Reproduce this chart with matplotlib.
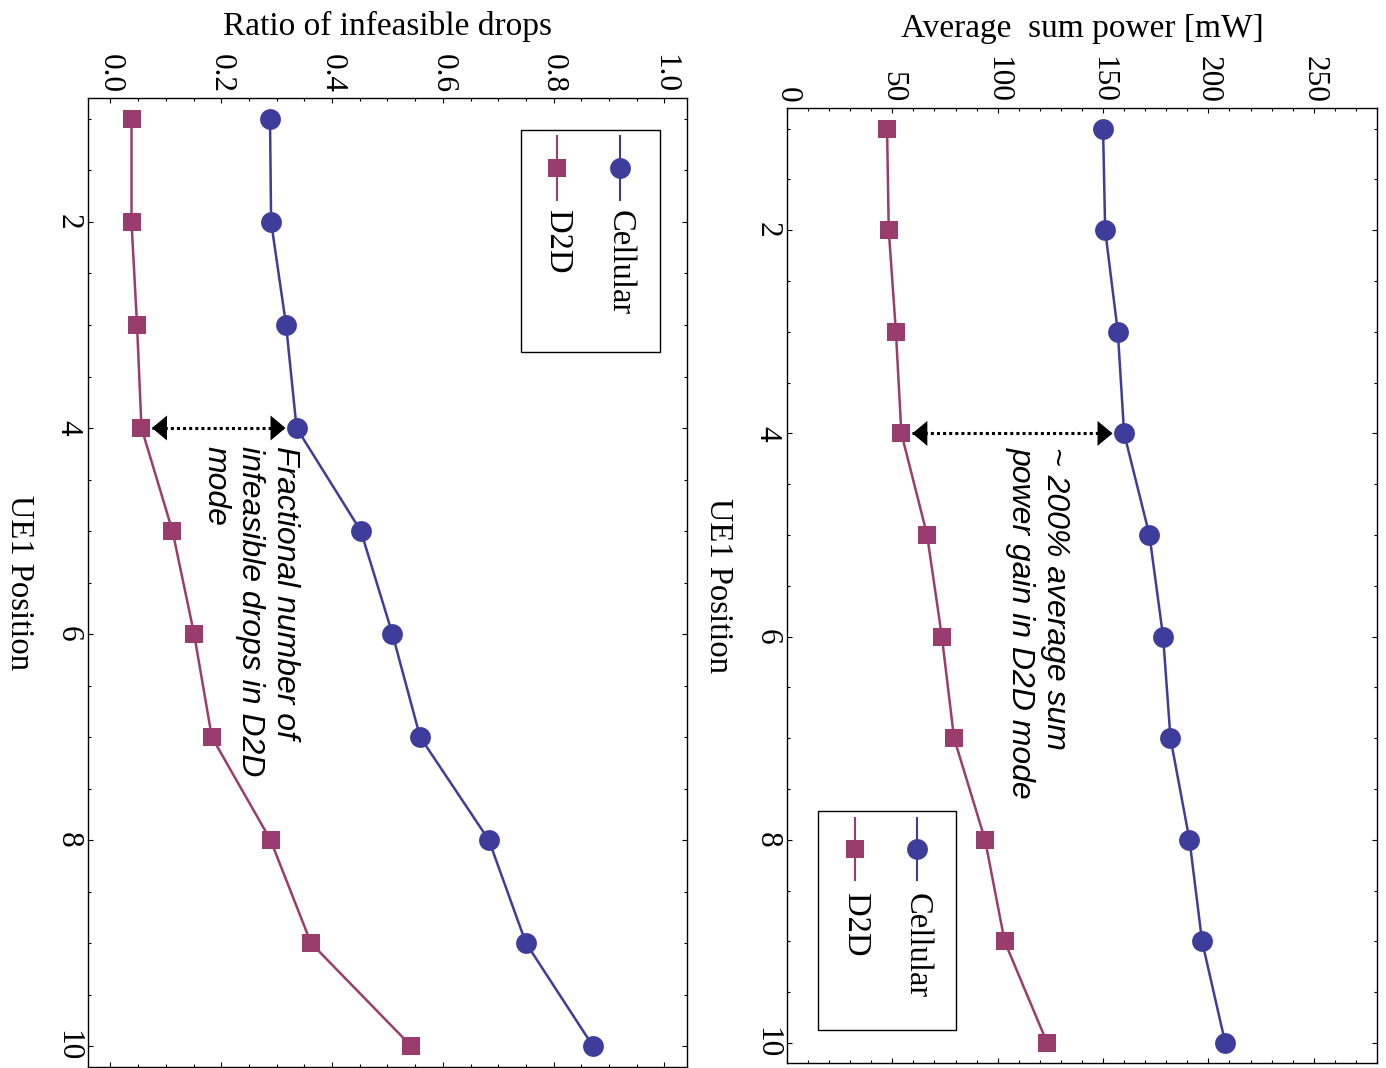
import matplotlib
matplotlib.use('Agg')
import matplotlib.pyplot as plt
from matplotlib.patches import Rectangle
from matplotlib.ticker import MultipleLocator

# valores (UE1 position 1..10)
positions = [1, 2, 3, 4, 5, 6, 7, 8, 9, 10]

ratio_cellular = [0.288, 0.290, 0.317, 0.336, 0.452, 0.509, 0.559, 0.683, 0.750, 0.871]
ratio_d2d = [0.038, 0.038, 0.048, 0.056, 0.112, 0.151, 0.183, 0.289, 0.362, 0.543]

power_cellular = [150, 151, 157, 160, 172, 178.5, 182, 191, 197, 208]
power_d2d = [47.5, 48.3, 51.7, 54.3, 66.5, 73.5, 79.3, 94, 103.3, 123.5]

series_names = ['Cellular', 'D2D']

ratio_ticks = [0.0, 0.2, 0.4, 0.6, 0.8, 1.0]
ratio_ticklabels = ['0.0', '0.2', '0.4', '0.6', '0.8', '1.0']
power_ticks = [0, 50, 100, 150, 200, 250]
power_ticklabels = ['0', '50', '100', '150', '200', '250']
pos_ticks = [2, 4, 6, 8, 10]
pos_ticklabels = ['2', '4', '6', '8', '10']

# setas duplas (posicao 4)
arrow_pos = 4
arrow_ratio = (0.075, 0.316)
arrow_power = (59.5, 154.5)

BLUE = '#3e3d9b'
MAGENTA = '#9b3c6e'

plt.rcParams['font.family'] = ['Liberation Serif', 'DejaVu Serif']

fig = plt.figure(figsize=(13.86, 10.68), dpi=100)
ax1 = fig.add_axes([0.0637, 0.0012, 0.4317, 0.9067])
ax2 = fig.add_axes([0.5678, 0.0044, 0.4257, 0.8942])


def draw_series(ax, cell, d2d):
    ax.plot(cell, positions, color=BLUE, lw=1.8, marker='o', ms=15, mew=0, zorder=2)
    ax.plot(d2d, positions, color=MAGENTA, lw=1.8, marker='s', ms=13.3, mew=0, zorder=2)


def style_axes(ax, xlim, xticks, xlabels, xminor, xlabel, label_y):
    ax.set_xticks(xticks, xlabels, rotation=-90, fontsize=22.5)
    ax.set_yticks(pos_ticks, pos_ticklabels, rotation=-90, va='center', fontsize=22.5)
    ax.xaxis.set_minor_locator(MultipleLocator(xminor))
    ax.yaxis.set_minor_locator(MultipleLocator(0.5))
    ax.xaxis.tick_top()
    ax.tick_params(which='both', direction='in', top=True, bottom=True,
                   left=True, right=True, labeltop=True, labelbottom=False, width=0.8)
    ax.tick_params(axis='x', which='major', length=3.5, pad=4)
    ax.tick_params(axis='y', which='major', length=3.5, pad=4)
    ax.tick_params(which='minor', length=2)
    for s in ax.spines.values():
        s.set_linewidth(1.0)
    ax.set_xlim(*xlim)
    ax.set_ylim(10.2, 0.8)
    ax.xaxis.set_label_position('top')
    ax.set_xlabel(xlabel, fontsize=24)
    ax.xaxis.label.set_va('center')
    ax.xaxis.set_label_coords(0.5, label_y)
    ax.set_ylabel('UE1 Position', fontsize=23.5, rotation=-90, va='center', ha='center')
    ax.yaxis.set_label_coords(-0.116, 0.5)


def double_arrow(ax, x0, x1, y):
    ax.plot([x0, x1], [y, y], color='k', lw=2.2, ls=(0, (1, 1)), zorder=3)
    ax.annotate('', xy=(x0, y), xytext=(x1, y),
                arrowprops=dict(arrowstyle='<|-|>,head_length=0.54,head_width=0.45',
                                mutation_scale=20, color='k', lw=0,
                                shrinkA=0, shrinkB=0), zorder=4)


def rotated_legend(ax, box, xs, line_y, marker_y, text_y):
    x0, x1, y0, y1 = box
    ax.add_patch(Rectangle((x0, y0), x1 - x0, y1 - y0, transform=ax.transAxes,
                           fill=False, ec='k', lw=1.0, zorder=5))
    styles = [(BLUE, 'o', 15), (MAGENTA, 's', 13.3)]
    for x, (col, mk, ms), name in zip(xs, styles, series_names):
        ax.plot([x, x], line_y, transform=ax.transAxes, color=col, lw=1.5, zorder=5)
        ax.plot([x], [marker_y], transform=ax.transAxes, color=col, marker=mk,
                ms=ms, mew=0, zorder=5)
        ax.text(x, text_y, name, transform=ax.transAxes, rotation=-90,
                ha='center', va='top', fontsize=23.5)


# painel esquerdo: razao de drops inviaveis
draw_series(ax1, ratio_cellular, ratio_d2d)
double_arrow(ax1, arrow_ratio[0], arrow_ratio[1], arrow_pos)
ax1.text(0.342, 4.17, 'Fractional number of\ninfeasible drops in D2D\nmode',
         rotation=-90, ha='right', va='top', multialignment='left',
         fontsize=23, family='Liberation Sans', style='italic')
rotated_legend(ax1, (0.7227, 0.9552, 0.7383, 0.9673), (0.8882, 0.7834),
               (0.961, 0.895), 0.928, 0.8847)
style_axes(ax1, (-0.04, 1.04), ratio_ticks, ratio_ticklabels, 0.05,
           'Ratio of infeasible drops', 1.0738)

# painel direito: potencia media
draw_series(ax2, power_cellular, power_d2d)
double_arrow(ax2, arrow_power[0], arrow_power[1], arrow_pos)
ax2.text(134.5, 4.13, '~ 200% average sum\npower gain in D2D mode',
         rotation=-90, ha='right', va='top', multialignment='left',
         fontsize=23, family='Liberation Sans', style='italic')
rotated_legend(ax2, (0.0525, 0.2864, 0.0349, 0.2642), (0.2203, 0.1153),
               (0.2569, 0.192), 0.2245, 0.1782)
style_axes(ax2, (0, 280), power_ticks, power_ticklabels, 10,
           'Average  sum power [mW]', 1.0831)

fig.savefig('out.png', dpi=100)
